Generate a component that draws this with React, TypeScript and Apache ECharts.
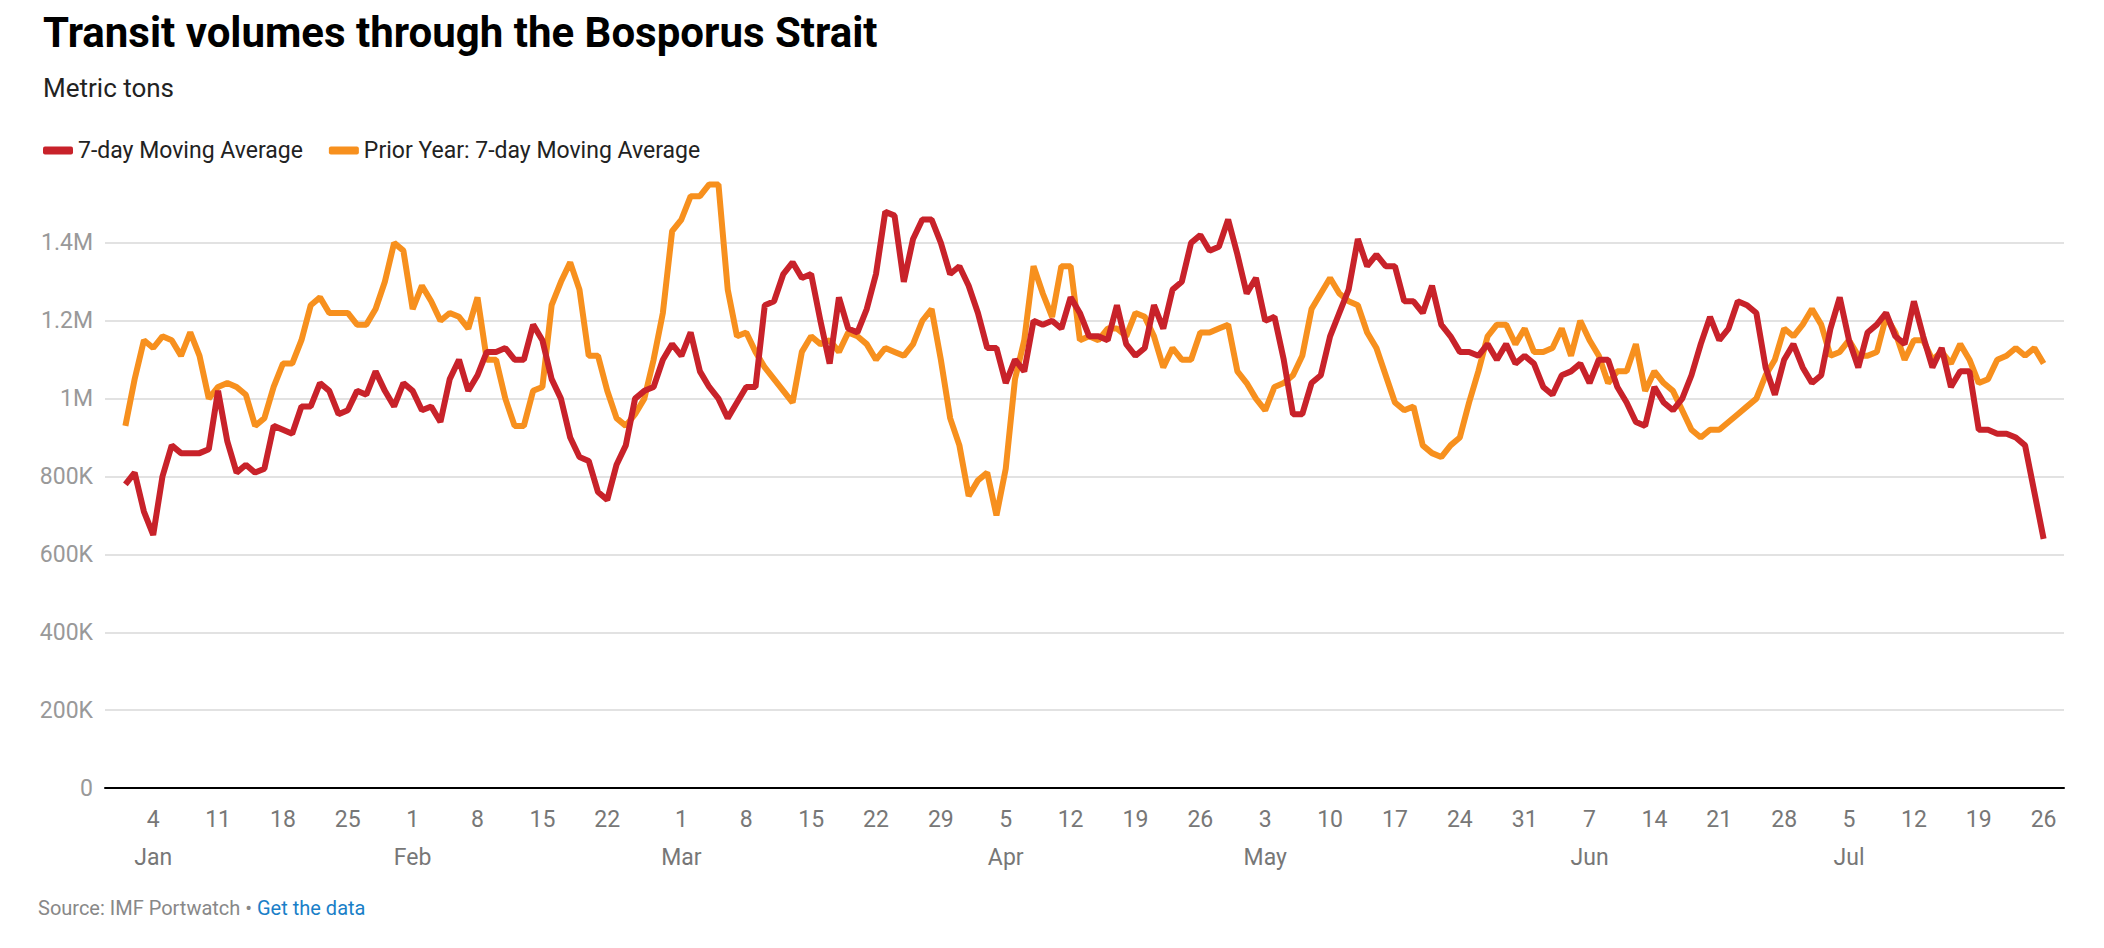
import React, { useEffect, useRef } from 'react';
import * as echarts from 'echarts';

// daily values from Jan 1 2024 (index 0) to Jul 26 (index 207), in million metric tons
const currentYear = [
  0.78, 0.81, 0.71, 0.65, 0.80, 0.88, 0.86, 0.86, 0.86, 0.87, 1.02, 0.89, 0.81, 0.83, 0.81, 0.82,
  0.93, 0.92, 0.91, 0.98, 0.98, 1.04, 1.02, 0.96, 0.97, 1.02, 1.01, 1.07, 1.02, 0.98, 1.04, 1.02,
  0.97, 0.98, 0.94, 1.05, 1.10, 1.02, 1.06, 1.12, 1.12, 1.13, 1.10, 1.10, 1.19, 1.15, 1.05, 1.00,
  0.90, 0.85, 0.84, 0.76, 0.74, 0.83, 0.88, 1.00, 1.02, 1.03, 1.10, 1.14, 1.11, 1.17, 1.07, 1.03,
  1.00, 0.95, 0.99, 1.03, 1.03, 1.24, 1.25, 1.32, 1.35, 1.31, 1.32, 1.20, 1.09, 1.26, 1.18, 1.17,
  1.23, 1.32, 1.48, 1.47, 1.30, 1.41, 1.46, 1.46, 1.40, 1.32, 1.34, 1.29, 1.22, 1.13, 1.13, 1.04,
  1.10, 1.07, 1.20, 1.19, 1.20, 1.18, 1.26, 1.22, 1.16, 1.16, 1.15, 1.24, 1.14, 1.11, 1.13, 1.24,
  1.18, 1.28, 1.30, 1.40, 1.42, 1.38, 1.39, 1.46, 1.37, 1.27, 1.31, 1.20, 1.21, 1.10, 0.96, 0.96,
  1.04, 1.06, 1.16, 1.22, 1.28, 1.41, 1.34, 1.37, 1.34, 1.34, 1.25, 1.25, 1.22, 1.29, 1.19, 1.16,
  1.12, 1.12, 1.11, 1.14, 1.10, 1.14, 1.09, 1.11, 1.09, 1.03, 1.01, 1.06, 1.07, 1.09, 1.04, 1.10,
  1.10, 1.03, 0.99, 0.94, 0.93, 1.03, 0.99, 0.97, 1.00, 1.06, 1.14, 1.21, 1.15, 1.18, 1.25, 1.24,
  1.22, 1.08, 1.01, 1.10, 1.14, 1.08, 1.04, 1.06, 1.18, 1.26, 1.15, 1.08, 1.17, 1.19, 1.22, 1.16,
  1.14, 1.25, 1.16, 1.08, 1.13, 1.03, 1.07, 1.07, 0.92, 0.92, 0.91, 0.91, 0.90, 0.88, 0.76, 0.64,
];

const priorYear = [
  0.93, 1.05, 1.15, 1.13, 1.16, 1.15, 1.11, 1.17, 1.11, 1.00, 1.03, 1.04, 1.03, 1.01, 0.93, 0.95,
  1.03, 1.09, 1.09, 1.15, 1.24, 1.26, 1.22, 1.22, 1.22, 1.19, 1.19, 1.23, 1.30, 1.40, 1.38, 1.23,
  1.29, 1.25, 1.20, 1.22, 1.21, 1.18, 1.26, 1.10, 1.10, 1.00, 0.93, 0.93, 1.02, 1.03, 1.24, 1.30,
  1.35, 1.28, 1.11, 1.11, 1.02, 0.95, 0.93, 0.96, 1.00, 1.10, 1.22, 1.43, 1.46, 1.52, 1.52, 1.55,
  1.55, 1.28, 1.16, 1.17, 1.12, 1.08, 1.05, 1.02, 0.99, 1.12, 1.16, 1.14, 1.15, 1.12, 1.17, 1.16,
  1.14, 1.10, 1.13, 1.12, 1.11, 1.14, 1.20, 1.23, 1.10, 0.95, 0.88, 0.75, 0.79, 0.81, 0.70, 0.82,
  1.05, 1.15, 1.34, 1.27, 1.21, 1.34, 1.34, 1.15, 1.16, 1.15, 1.18, 1.18, 1.16, 1.22, 1.21, 1.16,
  1.08, 1.13, 1.10, 1.10, 1.17, 1.17, 1.18, 1.19, 1.07, 1.04, 1.00, 0.97, 1.03, 1.04, 1.06, 1.11,
  1.23, 1.27, 1.31, 1.27, 1.25, 1.24, 1.17, 1.13, 1.06, 0.99, 0.97, 0.98, 0.88, 0.86, 0.85, 0.88,
  0.90, 0.99, 1.07, 1.16, 1.19, 1.19, 1.14, 1.18, 1.12, 1.12, 1.13, 1.18, 1.11, 1.20, 1.15, 1.11,
  1.04, 1.07, 1.07, 1.14, 1.02, 1.07, 1.04, 1.02, 0.97, 0.92, 0.90, 0.92, 0.92, 0.94, 0.96, 0.98,
  1.00, 1.06, 1.10, 1.18, 1.16, 1.19, 1.23, 1.19, 1.11, 1.12, 1.15, 1.11, 1.11, 1.12, 1.21, 1.17,
  1.10, 1.15, 1.15, 1.10, 1.12, 1.09, 1.14, 1.10, 1.04, 1.05, 1.10, 1.11, 1.13, 1.11, 1.13, 1.09,
];

// weekly tick positions (day index) and their labels
const tickDays = [3, 10, 17, 24, 31, 38, 45, 52, 59, 66, 73, 80, 87, 94, 101, 108, 115, 122, 129, 136,
  143, 150, 157, 164, 171, 178, 185, 192, 199, 206];
const tickLabels = ['4\nJan', '11', '18', '25', '1\nFeb', '8', '15', '22', '1\nMar', '8', '15', '22', '29',
  '5\nApr', '12', '19', '26', '3\nMay', '10', '17', '24', '31', '7\nJun', '14', '21', '28', '5\nJul', '12', '19', '26'];
// note: tick at index 59 is Feb 29 in the day count; labels follow the reference
const tickPos = tickDays.map((d, i) => (i >= 8 ? d + 1 : d));

const gridValues = [200000, 400000, 600000, 800000, 1000000, 1200000, 1400000];

const fmtY = (v: number) => (v === 0 ? '0' : v >= 1000000 ? `${+(v / 1000000).toFixed(1)}M` : `${v / 1000}K`);

const App: React.FC = () => {
  const chartRef = useRef<HTMLDivElement | null>(null);

  useEffect(() => {
    const chart = echarts.init(chartRef.current!, undefined, { renderer: 'svg' });
    const font = 'Roboto, "Liberation Sans", sans-serif';
    const toPairs = (arr: number[]) => arr.map((v, i) => [i, v * 1000000]);

    chart.setOption({
      animation: false,
      textStyle: { fontFamily: font },
      title: {
        text: 'Transit volumes through the Bosporus Strait',
        subtext: 'Metric tons',
        left: 38,
        top: 6,
        itemGap: 22,
        textStyle: { fontSize: 42, fontWeight: 'bold', color: '#000', fontFamily: font },
        subtextStyle: { fontSize: 26, color: '#222', fontFamily: font },
      },
      legend: {
        left: 38,
        top: 134,
        icon: 'roundRect',
        itemWidth: 30,
        itemHeight: 8,
        itemGap: 26,
        textStyle: { fontSize: 23, color: '#222', fontFamily: font },
        data: ['7-day Moving Average', 'Prior Year: 7-day Moving Average'],
      },
      grid: { left: 105, right: 40, top: 165, bottom: 160 },
      xAxis: {
        type: 'value',
        min: -2.2,
        max: 209.2,
        splitLine: { show: false },
        axisTick: { show: false },
        axisLine: { lineStyle: { color: '#000', width: 2 } },
        axisLabel: {
          customValues: tickPos,
          formatter: (v: number) => tickLabels[tickPos.indexOf(v)] ?? '',
          fontSize: 23,
          color: '#777',
          lineHeight: 38,
          margin: 12,
        },
      },
      yAxis: {
        type: 'value',
        min: 0,
        max: 1600000,
        interval: 200000,
        splitLine: { show: false },
        axisLine: { show: false },
        axisTick: { show: false },
        axisLabel: { formatter: fmtY, fontSize: 23, color: '#999', margin: 12, showMaxLabel: false },
      },
      series: [
        {
          name: '7-day Moving Average',
          type: 'line',
          data: toPairs(currentYear),
          symbol: 'none',
          z: 3,
          lineStyle: { color: '#c8222a', width: 6 },
          itemStyle: { color: '#c8222a' },
          markLine: {
            silent: true,
            symbol: 'none',
            label: { show: false },
            lineStyle: { color: '#e2e2e2', width: 2, type: 'solid' },
            z: 1,
            data: gridValues.map((v) => ({ yAxis: v })),
          },
        },
        {
          name: 'Prior Year: 7-day Moving Average',
          type: 'line',
          data: toPairs(priorYear),
          symbol: 'none',
          z: 2,
          lineStyle: { color: '#f7901e', width: 6 },
          itemStyle: { color: '#f7901e' },
        },
      ],
      graphic: [
        {
          type: 'text',
          left: 38,
          top: 898,
          style: {
            text: '{s|Source: IMF Portwatch • }{l|Get the data}',
            rich: {
              s: { fontSize: 20, fill: '#888', fontFamily: font },
              l: { fontSize: 20, fill: '#1a7fc8', fontFamily: font },
            },
          },
        },
      ],
    });

    return () => {
      chart.dispose();
    };
  }, []);

  return <div ref={chartRef} style={{ position: 'fixed', left: 0, top: 0, width: '2104px', height: '948px', background: '#fff' }} />;
};

export default App;
